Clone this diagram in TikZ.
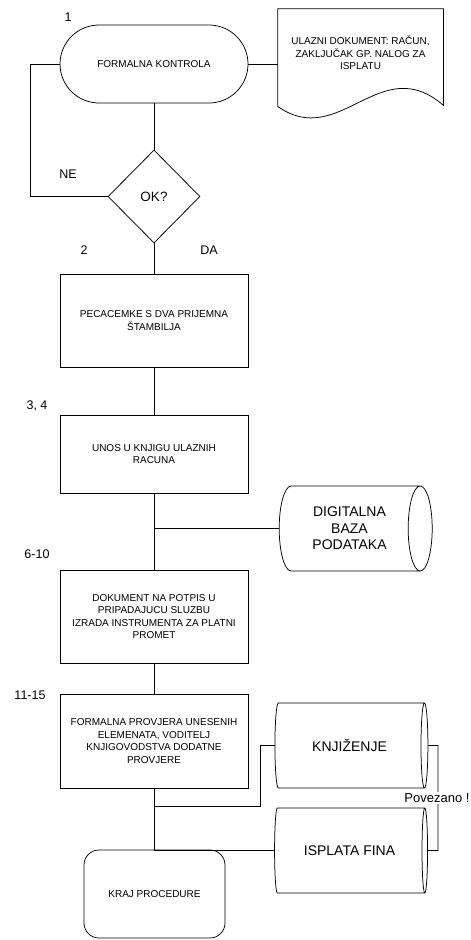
\documentclass[tikz,border=0pt]{standalone}
\usepackage{fontspec}
\setmainfont{Liberation Sans}
\usepackage{tikz}
\usetikzlibrary{shapes.geometric}
\usetikzlibrary{shapes.misc}
\usetikzlibrary{positioning}
\tikzset{
    korak/.style={draw=black, rectangle, minimum width=188pt, inner sep=0pt,
        align=center, font=\fontsize{10}{12.6}\selectfont},
    pocetak/.style={draw=black, rounded rectangle, minimum width=188pt,
        minimum height=78pt, inner sep=0pt, font=\fontsize{10}{12.6}\selectfont},
    pitanje/.style={draw=black, diamond, minimum width=92pt, minimum height=93pt,
        inner sep=0pt, font=\fontsize{13.5}{16}\selectfont},
    spremiste/.style={draw=black, cylinder, aspect=0.56, minimum width=85pt,
        minimum height=153pt, inner sep=0pt, align=center,
        font=\fontsize{14}{16.5}\selectfont},
    zavrsetak/.style={draw=black, rectangle, rounded corners=15pt,
        minimum width=141pt, minimum height=88pt, inner sep=0pt,
        font=\fontsize{10}{12.6}\selectfont},
    isprava/.style={rectangle, minimum width=165pt, minimum height=88pt,
        inner sep=0pt, align=center, font=\fontsize{10}{12.6}\selectfont},
    oznaka/.style={inner sep=0pt, font=\fontsize{12.5}{15}\selectfont},
    veza/.style={draw=black},
}

\begin{document}
\begin{tikzpicture}[x=1pt, y=-1pt, line width=0.75pt]
\useasboundingbox (0,0) rectangle (471,940);
% gornji dio
\node[pocetak] (kontrola) at (154,64) {FORMALNA KONTROLA};
\node[oznaka] (n1) at (68,17) {1};
\node[isprava] (dokument) at (360.5,53) {ULAZNI DOKUMENT: RAČUN,\\ZAKLJUČAK GP. NALOG ZA\\ISPLATU};
\draw (dokument.south west) -- (dokument.north west) -- (dokument.north east) -- ([yshift=-8pt]dokument.south east)
    .. controls +(-63,-55) and +(62,44) .. ([yshift=-9pt]dokument.south west) -- (dokument.south west);
\node[pitanje] (ok) at (154,196.5) {OK?};
\node[oznaka] (ne) at (68,174) {NE};
\node[oznaka] (n2) at (84,250) {2};
\node[oznaka] (da) at (209,250) {DA};
\coordinate (povrat) at (30,196.5);
\draw[veza] (kontrola.east) -- (kontrola.east -| dokument.west);
\draw[veza] (kontrola.south) -- (ok.north);
\draw[veza] (ok.west) -- (povrat) |- (kontrola.west);

% koraci
\node[korak, minimum height=93pt] (pecat) at (154,320.5) {PECACEMKE S DVA PRIJEMNA\\ŠTAMBILJA};
\node[korak, minimum height=78pt] (unos) at (154,454) {UNOS U KNJIGU ULAZNIH\\RACUNA};
\node[oznaka] (n34) at (37,406) {3, 4};
\node[spremiste] (digitalna) at (349.5,528.5) {DIGITALNA\\BAZA\\PODATAKA};
\node[korak, minimum height=93pt] (potpis) at (154,616.5) {DOKUMENT NA POTPIS U\\PRIPADAJUCU SLUZBU\\IZRADA INSTRUMENTA ZA PLATNI\\PROMET};
\node[oznaka] (n610) at (37,554) {6-10};
\node[korak, minimum height=94pt] (provjera) at (154,741) {FORMALNA PROVJERA UNESENIH\\ELEMENATA, VODITELJ\\KNJIGOVODSTVA DODATNE\\PROVJERE};
\node[oznaka] (n1115) at (30,695) {11-15};
\draw[veza] (ok.south) -- (pecat.north);
\draw[veza] (pecat.south) -- (unos.north);
\draw[veza] (unos.south) -- (potpis.north);
\draw[veza] (unos.south |- digitalna.west) -- (digitalna.west);
\draw[veza] (potpis.south) -- (provjera.north);

% donji dio
\node[spremiste] (knjizenje) at (349.5,745.5) {KNJIŽENJE};
\node[spremiste] (isplata) at (349.5,850.5) {ISPLATA FINA};
\node[zavrsetak] (kraj) at (154.5,894) {KRAJ PROCEDURE};
\coordinate (grana) at (154,806);
\coordinate (lom) at (260,806);
\coordinate (spoj) at (154,850.5);
\coordinate (desno) at (438,745.5);
\draw[veza] (provjera.south) -- (spoj) -- (isplata.west);
\draw[veza] (grana) -- (lom) |- (knjizenje.west);
\draw[veza] (knjizenje.east) -- (desno) |- (isplata.east);
\node[oznaka, fill=white, inner sep=1.5pt, font=\fontsize{13}{15}\selectfont] (povezano) at (437,798) {Povezano !};
\end{tikzpicture}
\end{document}
